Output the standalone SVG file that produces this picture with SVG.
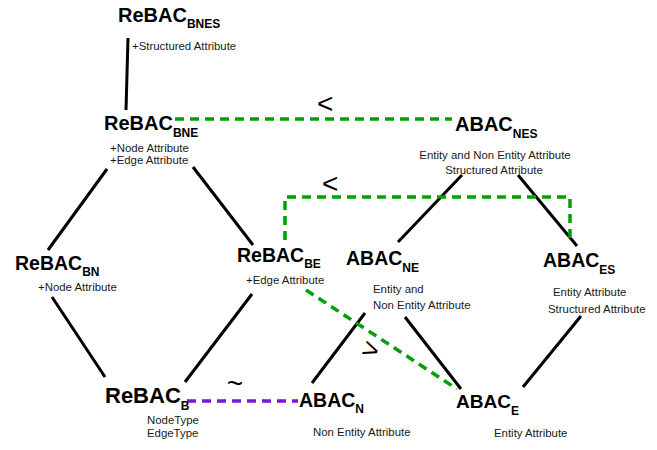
<svg xmlns="http://www.w3.org/2000/svg" width="657" height="450" viewBox="0 0 657 450">
<style>
text{font-family:"Liberation Sans",Arial,sans-serif;fill:#000}
.t{font-weight:bold}
.s{font-weight:bold;font-size:12px}
.a{font-size:11.4px;fill:#1a1a1a}
.sym{font-size:28px}
.ln{stroke:#000;stroke-width:3;fill:none}
.gd{stroke:#00a000;stroke-width:3.5;stroke-dasharray:9 6;fill:none}
.pd{stroke:#7d14d8;stroke-width:3.5;stroke-dasharray:9 6;fill:none}
</style>
<rect width="657" height="450" fill="#fff"/>
<g id="connectors">
<line class="ln" x1="128" y1="38" x2="126" y2="110"/>
<line class="ln" x1="107" y1="169" x2="48" y2="250"/>
<line class="ln" x1="193" y1="167" x2="253" y2="245"/>
<line class="ln" x1="52" y1="297" x2="105" y2="377"/>
<line class="ln" x1="252" y1="294" x2="185" y2="382"/>
<line class="ln" x1="462" y1="175" x2="398" y2="242"/>
<line class="ln" x1="518" y1="175" x2="577" y2="246"/>
<line class="ln" x1="365" y1="313" x2="312" y2="383"/>
<line class="ln" x1="405" y1="317" x2="461" y2="389"/>
<line class="ln" x1="581" y1="316" x2="523" y2="387"/>
<line class="gd" x1="175" y1="119" x2="452" y2="119"/>
<polyline class="gd" points="285,240 285,197 570,197 570,244"/>
<line class="gd" x1="306" y1="290" x2="457" y2="389"/>
<line class="pd" x1="187" y1="401" x2="298" y2="401"/>
<text class="sym" x="317" y="113">&lt;</text>
<text class="sym" x="322" y="193">&lt;</text>
<text class="sym" x="371" y="359" text-anchor="middle" transform="rotate(20 371 349)">&gt;</text>
<text class="sym" x="235" y="393" text-anchor="middle" font-size="30">~</text>
</g>
<g id="ReBAC_BNES">
<text class="t" x="118" y="22" font-size="20">ReBAC<tspan class="s" dy="6">BNES</tspan></text>
<text class="a" x="132" y="50">+Structured Attribute</text>
</g>
<g id="ReBAC_BNE">
<text class="t" x="104" y="130" font-size="20">ReBAC<tspan class="s" dy="6.5">BNE</tspan></text>
<text class="a" x="110" y="152">+Node Attribute</text>
<text class="a" x="110" y="164">+Edge Attribute</text>
</g>
<g id="ABAC_NES">
<text class="t" x="455" y="131" font-size="20">ABAC<tspan class="s" dy="6.5">NES</tspan></text>
<text class="a" x="495" y="159" text-anchor="middle">Entity and Non Entity Attribute</text>
<text class="a" x="494" y="174" text-anchor="middle">Structured Attribute</text>
</g>
<g id="ReBAC_BN">
<text class="t" x="15" y="270" font-size="19.5">ReBAC<tspan class="s" dy="6">BN</tspan></text>
<text class="a" x="38" y="291">+Node Attribute</text>
</g>
<g id="ReBAC_BE">
<text class="t" x="237" y="262" font-size="19.5">ReBAC<tspan class="s" dy="5.5">BE</tspan></text>
<text class="a" x="246" y="284">+Edge Attribute</text>
</g>
<g id="ABAC_NE">
<text class="t" x="346" y="265" font-size="19.5">ABAC<tspan class="s" dy="7">NE</tspan></text>
<text class="a" x="373" y="293">Entity and</text>
<text class="a" x="373" y="309">Non Entity Attribute</text>
</g>
<g id="ABAC_ES">
<text class="t" x="543" y="267" font-size="19.5">ABAC<tspan class="s" dy="6.5">ES</tspan></text>
<text class="a" x="553" y="296">Entity Attribute</text>
<text class="a" x="548" y="313">Structured Attribute</text>
</g>
<g id="ReBAC_B">
<text class="t" x="105" y="403" font-size="22">ReBAC<tspan class="s" dy="7">B</tspan></text>
<text class="a" x="147" y="424">NodeType</text>
<text class="a" x="147" y="437">EdgeType</text>
</g>
<g id="ABAC_N">
<text class="t" x="299" y="407" font-size="19.5">ABAC<tspan class="s" dy="6">N</tspan></text>
<text class="a" x="313" y="436">Non Entity Attribute</text>
</g>
<g id="ABAC_E">
<text class="t" x="456" y="408" font-size="19">ABAC<tspan class="s" dy="7">E</tspan></text>
<text class="a" x="494" y="437">Entity Attribute</text>
</g>
</svg>
